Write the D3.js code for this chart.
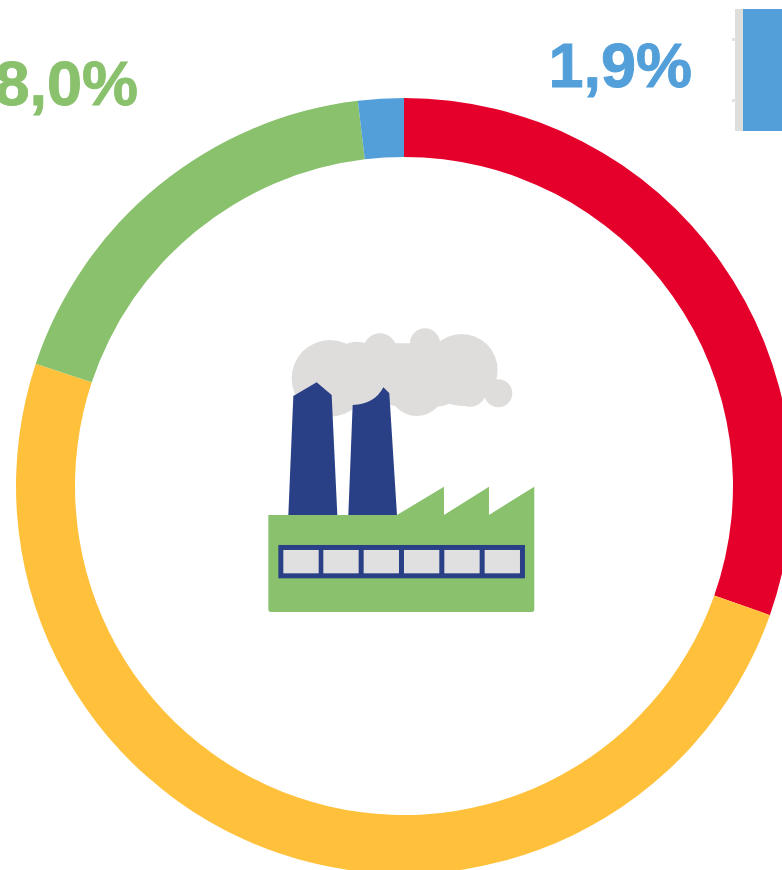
<!DOCTYPE html>
<html><head><meta charset="utf-8">
<style>html,body{margin:0;padding:0;background:#fff;overflow:hidden}svg{display:block}</style>
<script src="https://cdnjs.cloudflare.com/ajax/libs/d3/7.8.5/d3.min.js"></script>
</head><body>
<svg id="c" width="782" height="870"></svg>
<script>
const categories = ["Red","Yellow","Green","Blue"];
const values = [30.4,49.7,18.0,1.9];
const colors = ["#E4002B","#FFC13B","#8AC16D","#529FD9"];
const labels = ["18,0%","1,9%"];
const labelColors = ["#8AC16D","#529FD9"];

const svg = d3.select("#c");
const pie = d3.pie().sort(null).value(d=>d);
const arc = d3.arc().innerRadius(329).outerRadius(388);
svg.append("g").attr("transform","translate(404,486)")
  .selectAll("path").data(pie(values)).join("path")
  .attr("d",arc).attr("fill",(d,i)=>colors[i]);

svg.selectAll("text.l").data(labels).join("text").attr("class","l")
  .attr("x",(d,i)=>[138,692][i]).attr("y",(d,i)=>[105,87][i])
  .attr("text-anchor","end")
  .attr("font-family","Liberation Sans, Arial, sans-serif")
  .attr("font-weight","bold").attr("font-size",63)
  .attr("fill",(d,i)=>labelColors[i])
  .attr("stroke",(d,i)=>labelColors[i]).attr("stroke-width",0.9)
  .text(d=>d);

// legend fragment at the top right
svg.append("rect").attr("x",735).attr("y",9).attr("width",10).attr("height",122).attr("fill","#DEDEDC");
svg.append("rect").attr("x",732).attr("y",38).attr("width",4).attr("height",3).attr("fill","#E2E2E0");
svg.append("rect").attr("x",732).attr("y",99).attr("width",4).attr("height",3).attr("fill","#E2E2E0");
svg.append("rect").attr("x",743).attr("y",9).attr("width",39).attr("height",122).attr("fill","#529FD9");

// factory icon, in 3x crop units
const icon = svg.append("g").attr("transform","translate(250,310) scale(0.3333)");
icon.append("path").attr("fill","#DEDDDC").attr("d","M250,110L350,100L520,100L640,110L700,250L500,300L340,270L220,220Z");
const cloud = [[240,205,115],[320,170,75],[390,120,50],[525,100,45],[635,180,108],[500,235,83],[340,200,85],[745,250,42],[660,240,50],[560,200,90]];
icon.selectAll("circle").data(cloud).join("circle")
  .attr("cx",d=>d[0]).attr("cy",d=>d[1]).attr("r",d=>d[2]).attr("fill","#DEDDDC");
icon.append("path").attr("fill","#2A4086").attr("d","M130,258L200,217L245,255L262,615L115,615Z");
icon.append("path").attr("fill","#2A4086").attr("d","M308,285Q375,282 400,232L418,250L441,615L295,615Z");
icon.append("path").attr("fill","#8AC16D").attr("d","M55,615L441,615L582,530L582,615L717,530L717,615L853,530L853,898Q853,906 845,906L63,906Q55,906 55,898Z");
icon.append("rect").attr("x",85).attr("y",705).attr("width",740).attr("height",100).attr("fill","#2A4086");
const panes = [100,220,341,462,583,704];
icon.selectAll("rect.p").data(panes).join("rect").attr("class","p")
  .attr("x",d=>d).attr("y",720).attr("width",106).attr("height",70).attr("fill","#E0E0E0");
</script>
</body></html>
